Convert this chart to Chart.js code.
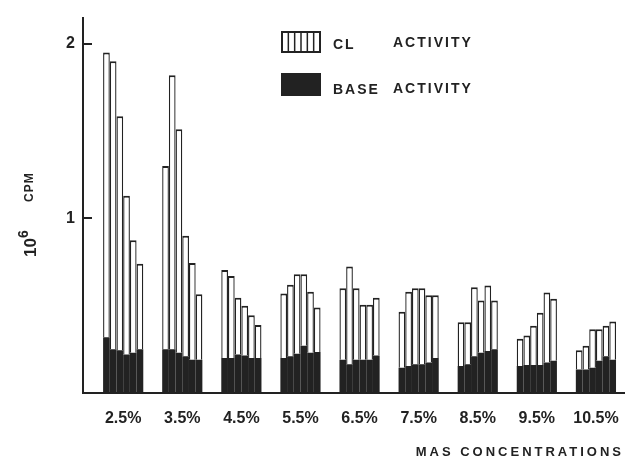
<!DOCTYPE html>
<html>
<head>
<meta charset="utf-8">
<script src="https://cdn.jsdelivr.net/npm/chart.js@4/dist/chart.umd.min.js"></script>
<style>
  html, body { margin: 0; padding: 0; background: #fff; }
  #wrap { width: 628px; height: 462px; position: relative; }
</style>
</head>
<body>
<div id="wrap"><canvas id="c" width="628" height="462"></canvas></div>
<script>
// MAS concentrations (one group of six samples per concentration)
const concentrations = ['2.5%', '3.5%', '4.5%', '5.5%', '6.5%', '7.5%', '8.5%', '9.5%', '10.5%'];

// Total activity (CL + base), 10^6 cpm, six samples per concentration
const totalActivity = [
  [1.95, 1.90, 1.585, 1.13, 0.875, 0.74],
  [1.30, 1.82, 1.51, 0.90, 0.745, 0.565],
  [0.705, 0.67, 0.545, 0.50, 0.445, 0.39],
  [0.57, 0.62, 0.68, 0.68, 0.58, 0.49],
  [0.60, 0.725, 0.60, 0.505, 0.505, 0.545],
  [0.465, 0.58, 0.60, 0.60, 0.56, 0.56],
  [0.405, 0.405, 0.605, 0.53, 0.615, 0.53],
  [0.31, 0.33, 0.385, 0.46, 0.575, 0.54],
  [0.245, 0.27, 0.365, 0.365, 0.385, 0.41]
];

// Base activity, 10^6 cpm
const baseActivity = [
  [0.32, 0.25, 0.245, 0.22, 0.23, 0.25],
  [0.25, 0.25, 0.23, 0.21, 0.19, 0.19],
  [0.20, 0.20, 0.22, 0.215, 0.20, 0.20],
  [0.20, 0.21, 0.225, 0.27, 0.23, 0.235],
  [0.19, 0.165, 0.19, 0.19, 0.19, 0.215],
  [0.145, 0.155, 0.165, 0.165, 0.175, 0.20],
  [0.155, 0.165, 0.21, 0.23, 0.24, 0.25],
  [0.155, 0.16, 0.16, 0.16, 0.175, 0.185],
  [0.135, 0.135, 0.145, 0.185, 0.21, 0.19]
];

const yTickValues = [1, 2];

const INK = '#222222';
const FONT = "'Liberation Sans', Arial, Helvetica, sans-serif";
const SAMPLES = 6;

// One stack per sample position: base at the bottom, CL activity on top
const datasets = [];
for (let j = 0; j < SAMPLES; j++) {
  datasets.push({
    label: 'BASE ACTIVITY',
    stack: 'sample' + j,
    data: baseActivity.map((g, i) => ({ x: i + 1, y: g[j] })),
    backgroundColor: INK,
    borderWidth: 0
  });
  datasets.push({
    label: 'CL ACTIVITY',
    stack: 'sample' + j,
    data: totalActivity.map((g, i) => ({ x: i + 1, y: g[j] - baseActivity[i][j] })),
    backgroundColor: '#ffffff',
    borderColor: INK,
    borderWidth: { top: 2, left: 1.35, right: 1.35, bottom: 0 },
    borderSkipped: false
  });
}

// Inward tick marks, axis titles and the key
const decorations = {
  id: 'decorations',
  afterDraw(chart) {
    const ctx = chart.ctx;
    const y = chart.scales.y;
    const area = chart.chartArea;
    ctx.save();

    // inward y ticks
    ctx.strokeStyle = INK;
    ctx.lineWidth = 2;
    yTickValues.forEach(v => {
      const py = Math.round(y.getPixelForValue(v));
      ctx.beginPath();
      ctx.moveTo(area.left, py);
      ctx.lineTo(area.left + 9, py);
      ctx.stroke();
    });

    // y title: 10^6 CPM
    ctx.fillStyle = INK;
    ctx.save();
    ctx.translate(36, 257);
    ctx.rotate(-Math.PI / 2);
    ctx.textBaseline = 'alphabetic';
    ctx.textAlign = 'left';
    ctx.font = `bold 17px ${FONT}`;
    ctx.fillText('10', 0, 0);
    ctx.font = `bold 14px ${FONT}`;
    ctx.fillText('6', 19, -8);
    ctx.font = `bold 12px ${FONT}`;
    ctx.letterSpacing = '1px';
    ctx.fillText('CPM', 55, -3);
    ctx.restore();

    // x title
    ctx.font = `bold 13px ${FONT}`;
    ctx.letterSpacing = '3px';
    ctx.textBaseline = 'middle';
    ctx.textAlign = 'left';
    const title = 'MAS CONCENTRATIONS';
    const w = ctx.measureText(title).width;
    ctx.fillText(title, 624 - w, 452);

    // key
    ctx.lineWidth = 2;
    ctx.strokeStyle = INK;
    ctx.fillStyle = '#ffffff';
    ctx.fillRect(282, 32, 38, 20);
    ctx.strokeRect(282, 32, 38, 20);
    ctx.lineWidth = 1.5;
    for (let k = 1; k < 6; k++) {
      const lx = 282 + k * 38 / 6;
      ctx.beginPath();
      ctx.moveTo(lx, 32);
      ctx.lineTo(lx, 52);
      ctx.stroke();
    }
    ctx.fillStyle = INK;
    ctx.fillRect(281, 73, 40, 23);

    ctx.font = `bold 14px ${FONT}`;
    ctx.letterSpacing = '2px';
    ctx.textBaseline = 'middle';
    ctx.fillText('CL', 333, 45);
    ctx.fillText('ACTIVITY', 393, 43);
    ctx.fillText('BASE', 333, 90);
    ctx.fillText('ACTIVITY', 393, 89);
    ctx.restore();
  }
};

new Chart(document.getElementById('c'), {
  type: 'bar',
  data: { datasets },
  options: {
    responsive: false,
    animation: false,
    devicePixelRatio: 1,
    layout: { padding: { top: 12, right: 4, left: 0, bottom: 0 } },
    datasets: {
      bar: { barPercentage: 1, categoryPercentage: 0.68 }
    },
    plugins: {
      legend: { display: false },
      tooltip: { enabled: false }
    },
    scales: {
      x: {
        type: 'linear',
        offset: false,
        min: 0.32,
        max: 9.475,
        grid: { display: false, drawTicks: false },
        border: { display: true, width: 2, color: INK },
        ticks: {
          autoSkip: false,
          maxRotation: 0,
          padding: 16,
          color: INK,
          font: { family: FONT, size: 16, weight: 'bold' },
          callback: v => concentrations[v - 1] ?? ''
        },
        afterBuildTicks: s => { s.ticks = concentrations.map((_, i) => ({ value: i + 1 })); },
        afterFit: s => { s.height = 69; s.paddingLeft = 0; s.paddingRight = 0; }
      },
      y: {
        type: 'linear',
        stacked: true,
        min: 0,
        max: 2.15,
        grid: { display: false, drawTicks: false },
        border: { display: true, width: 2, color: INK },
        ticks: {
          padding: 8,
          color: INK,
          font: { family: FONT, size: 16, weight: 'bold' },
          callback: v => yTickValues.includes(v) ? String(v) : ''
        },
        afterBuildTicks: s => { s.ticks = [0, ...yTickValues].map(v => ({ value: v })); },
        afterFit: s => { s.width = 83; }
      }
    }
  },
  plugins: [decorations]
});
</script>
</body>
</html>
